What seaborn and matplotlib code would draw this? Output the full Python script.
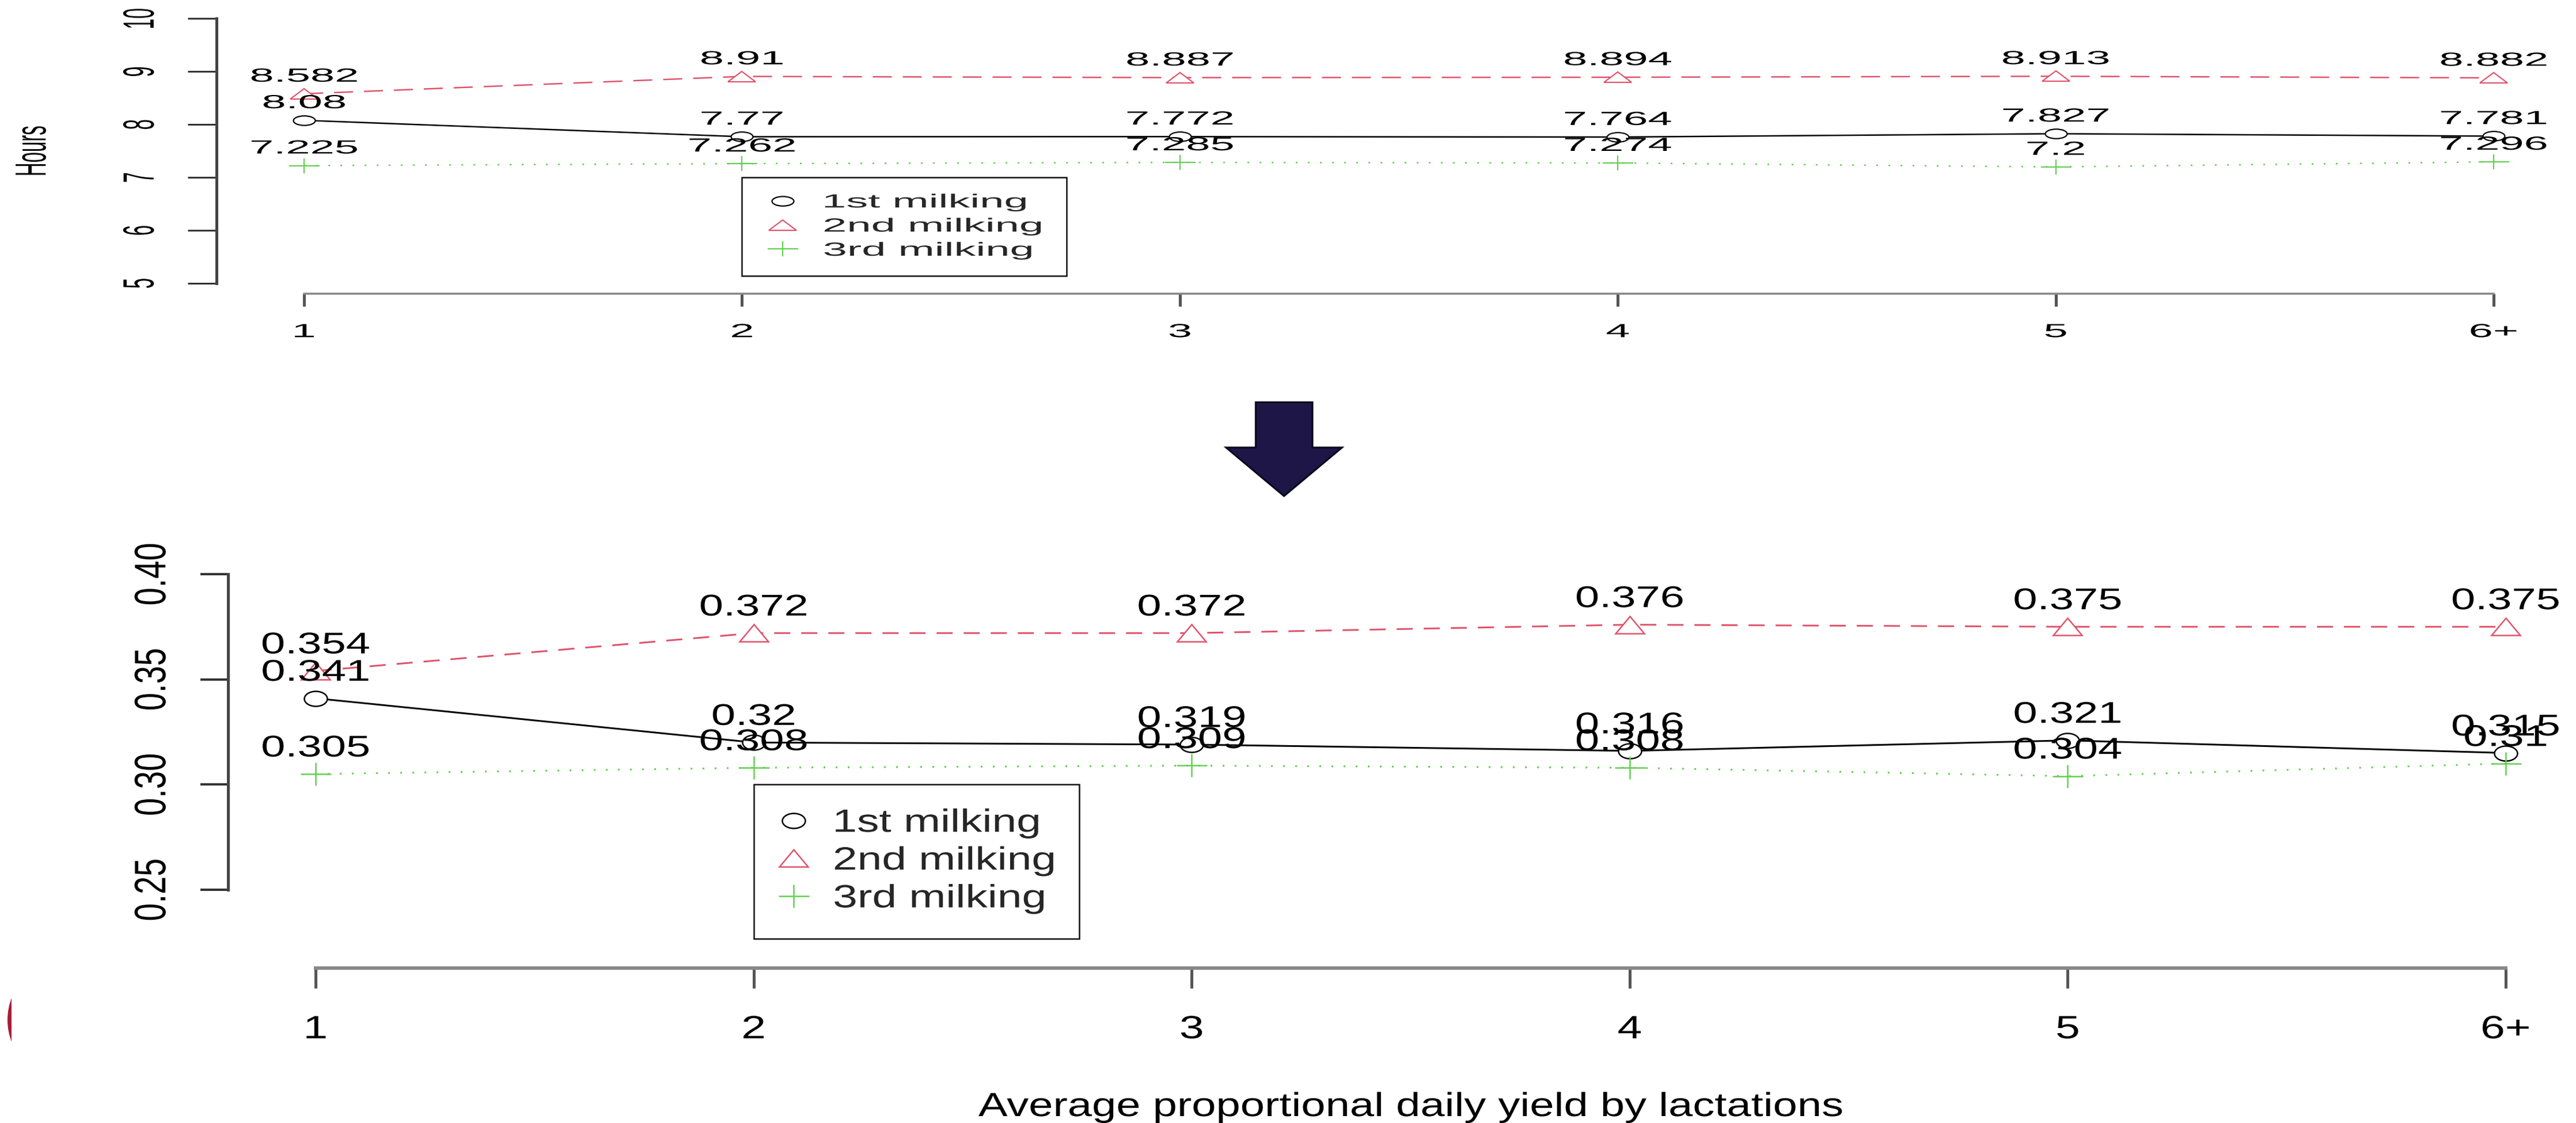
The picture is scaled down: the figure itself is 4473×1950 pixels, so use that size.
import numpy as np
import pandas as pd
import matplotlib
matplotlib.use("Agg")
import matplotlib.pyplot as plt
import seaborn as sns
from matplotlib.markers import MarkerStyle
from matplotlib.transforms import Affine2D
from matplotlib.patheffects import AbstractPathEffect
from matplotlib.lines import Line2D
from matplotlib.patches import Polygon, Ellipse, Rectangle
from matplotlib.path import Path

# ---------------- data ----------------
lactations = ["1", "2", "3", "4", "5", "6+"]
series_names = ["1st milking", "2nd milking", "3rd milking"]

hours_1st = [8.08, 7.77, 7.772, 7.764, 7.827, 7.781]
hours_2nd = [8.582, 8.91, 8.887, 8.894, 8.913, 8.882]
hours_3rd = [7.225, 7.262, 7.285, 7.274, 7.2, 7.296]

prop_1st = [0.341, 0.32, 0.319, 0.316, 0.321, 0.315]
prop_2nd = [0.354, 0.372, 0.372, 0.376, 0.375, 0.375]
prop_3rd = [0.305, 0.308, 0.309, 0.308, 0.304, 0.31]

hours_ticks = [5, 6, 7, 8, 9, 10]
hours_tick_labels = ["5", "6", "7", "8", "9", "10"]
prop_ticks = [0.25, 0.30, 0.35, 0.40]
prop_tick_labels = ["0.25", "0.30", "0.35", "0.40"]

top_ylabel = "Hours"
bottom_xlabel = "Average proportional daily yield by lactations"

series_colors = ["#000000", "#DF536B", "#61D04F"]

# ---------------- setup ----------------
W, H, DPI = 4473, 1950, 100
sns.set_theme(style="ticks")
plt.rcParams["font.family"] = ["Liberation Sans", "DejaVu Sans"]
plt.rcParams["lines.scale_dashes"] = False
plt.rcParams["axes.facecolor"] = "none"


def pt(px):
    return px * 72.0 / DPI


def rlim(lo, hi):
    d = 0.04 * (hi - lo)
    return lo - d, hi + d


class HStretch(AbstractPathEffect):
    """Draw text stretched horizontally (mimics the stretched raster)."""

    def __init__(self, sx, anchor="center"):
        super().__init__()
        self.sx = sx
        self.anchor = anchor

    def draw_path(self, renderer, gc, tpath, affine, rgbFace=None):
        verts = tpath.vertices
        codes = tpath.codes
        if codes is not None:
            keep = (codes != Path.CLOSEPOLY) & (codes != Path.STOP)
            verts = verts[keep]
        if len(verts) == 0:
            renderer.draw_path(gc, tpath, affine, rgbFace)
            return
        xs = affine.transform(verts)[:, 0]
        cx = 0.5 * (xs.min() + xs.max()) if self.anchor == "center" else xs.min()
        st = Affine2D().translate(-cx, 0).scale(self.sx, 1).translate(cx, 0)
        renderer.draw_path(gc, tpath, affine + st, rgbFace)


class ExtendRight:
    def __init__(self, extra):
        self.extra = extra

    def __call__(self, x0, y0, width, height, mutation_size):
        x1 = x0 + width + self.extra
        y1 = y0 + height
        return Path([(x0, y0), (x1, y0), (x1, y1), (x0, y1), (x0, y0)], closed=True)


BASE_PT = 10.0
BASE_PX = BASE_PT * DPI / 72.0


def make_marker(kind, w, h):
    return MarkerStyle(kind, transform=Affine2D().scale(w / BASE_PX, h / BASE_PX))


fig = plt.figure(figsize=(W / DPI, H / DPI), dpi=DPI)
fig.patch.set_facecolor("white")


def axes_px(left, top, right, bottom):
    return fig.add_axes([left / W, 1 - bottom / H, (right - left) / W, (bottom - top) / H])


TOP = dict(em=33, em_val=33, sx=2.3, sx_val=2.3, lw=2.5, mew=2.2,
           markers=[("o", 38, 16.5), ("^", 48, 17.5), ("+", 53, 26)],
           dash=(0, (pt(33), pt(19))), dot=(0, (pt(3), pt(18))),
           ytick_len=50, ytick_w=3, ytick_pad=67, xtick_len=22, xtick_w=5, xtick_pad=29,
           lspine_w=5, bspine_w=3.5, val_off=21,
           leg=dict(borderpad=0.85, labelspacing=0.33, handlelength=2.6, handletextpad=0.85),
           leg_right=10, leg_anchor=(2, 7))
BOT = dict(em=56, em_val=52, sx=1.37, sx_val=1.46, lw=3, mew=2.5,
           markers=[("o", 40, 26), ("^", 50, 30), ("+", 53, 40)],
           dash=(0, (pt(28), pt(19))), dot=(0, (pt(3), pt(18))),
           ytick_len=48, ytick_w=4, ytick_pad=56, xtick_len=35, xtick_w=5, xtick_pad=47,
           lspine_w=5, bspine_w=6, val_off=30.5,
           leg=dict(borderpad=0.75, labelspacing=0.243, handlelength=0.96, handletextpad=0.76),
           leg_right=-3, leg_anchor=(2, 0.30))

xpos = np.arange(1, len(lactations) + 1)


def draw_panel(ax, series, yrange, yticks, yticklabels, st):
    styles = ["-", st["dash"], st["dot"]]
    markers = [make_marker(k, w, h) for k, w, h in st["markers"]]
    for i, vals in enumerate(series):
        df = pd.DataFrame({"lactation": xpos, "value": vals})
        sns.lineplot(data=df, x="lactation", y="value", ax=ax, color=series_colors[i],
                     linestyle=styles[i], linewidth=pt(st["lw"]), marker=markers[i],
                     markersize=BASE_PT, markeredgecolor=series_colors[i],
                     markerfacecolor="white", markeredgewidth=pt(st["mew"]),
                     errorbar=None, legend=False, zorder=2 + 0.1 * i)
    for i, vals in enumerate(series):
        for x, v in zip(xpos, vals):
            ax.annotate(f"{v:g}", xy=(x, v), xytext=(0, pt(st["val_off"])),
                        textcoords="offset points", ha="center", va="baseline",
                        fontsize=pt(st["em_val"]), color="black",
                        path_effects=[HStretch(st["sx_val"])], zorder=5)

    ax.set_xlim(*rlim(1, len(lactations)))
    ax.set_ylim(*rlim(*yrange))
    ax.tick_params(axis="y", length=pt(st["ytick_len"]), width=pt(st["ytick_w"]),
                   pad=pt(st["ytick_pad"]), labelsize=pt(st["em"]), color="#333333",
                   labelcolor="black", direction="out", left=True)
    ax.tick_params(axis="x", length=pt(st["xtick_len"]), width=pt(st["xtick_w"]),
                   pad=pt(st["xtick_pad"]), labelsize=pt(st["em"]), color="#555555",
                   labelcolor="black", direction="out", bottom=True)
    ax.set_xticks(xpos, labels=lactations)
    ax.set_yticks(yticks, labels=yticklabels, rotation=90, va="center")
    for t in ax.get_xticklabels() + ax.get_yticklabels():
        t.set_path_effects([HStretch(st["sx"])])

    for s in ["top", "right"]:
        ax.spines[s].set_visible(False)
    ax.spines["left"].set_bounds(yticks[0], yticks[-1])
    ax.spines["left"].set_linewidth(pt(st["lspine_w"]))
    ax.spines["left"].set_color("#444444")
    ax.spines["bottom"].set_bounds(xpos[0], xpos[-1])
    ax.spines["bottom"].set_linewidth(pt(st["bspine_w"]))
    ax.spines["bottom"].set_color("#888888")
    ax.grid(False)

    handles = [Line2D([], [], linestyle="none", marker=markers[i], markersize=BASE_PT,
                      markeredgecolor=series_colors[i], markerfacecolor="white",
                      markeredgewidth=pt(st["mew"])) for i in range(len(series))]
    leg = ax.legend(handles, series_names, loc="upper left", bbox_to_anchor=st["leg_anchor"],
                    bbox_transform=ax.transData, borderaxespad=0, frameon=True, fancybox=False,
                    edgecolor="#111111", framealpha=1, facecolor="white",
                    fontsize=pt(st["em"]), numpoints=1, **st["leg"])
    leg.get_frame().set_linewidth(pt(2.5))
    for t in leg.get_texts():
        t.set_path_effects([HStretch(st["sx"], anchor="left")])
    return leg


ax_top = axes_px(376, 14.1, 4482, 510.4)
leg_top = draw_panel(ax_top, [hours_1st, hours_2nd, hours_3rd], (5, 10),
                     hours_ticks, hours_tick_labels, TOP)
ax_top.set_xlabel("")
ax_top.set_ylabel(top_ylabel, fontsize=pt(33), color="black")
ax_top.yaxis.set_label_coords(-0.0741, 0.5)
ax_top.yaxis.label.set_path_effects([HStretch(TOP["sx"])])

ax_bot = axes_px(396, 970.7, 4503, 1680.9)
leg_bot = draw_panel(ax_bot, [prop_1st, prop_2nd, prop_3rd], (0.22, 0.40),
                     prop_ticks, prop_tick_labels, BOT)
ax_bot.set_ylabel("")
ax_bot.set_xlabel(bottom_xlabel, fontsize=pt(58), color="black")
ax_bot.xaxis.set_label_coords(0.5, -0.3029)
ax_bot.xaxis.label.set_path_effects([HStretch(1.31)])

# arrow between the panels (decoration)
arrow_px = [(2180.5, 698.5), (2279, 698.5), (2279, 777), (2330.5, 777),
            (2229.6, 861.4), (2128.7, 777), (2180.5, 777)]
fig.add_artist(Polygon([(x / W, 1 - y / H) for x, y in arrow_px], closed=True,
                       transform=fig.transFigure, facecolor="#1d1647",
                       edgecolor="#08061c", linewidth=pt(3), zorder=1))

# cropped logo fragment at the left edge
logo = Ellipse((118 / W, 1 - 1771 / H), 210 / W, 210 / H, transform=fig.transFigure,
               facecolor="#a51d36", edgecolor="none")
fig.add_artist(logo)
logo.set_clip_path(Rectangle((0, 0), 20 / W, 1, transform=fig.transFigure))

# widen legend frames to hold the stretched labels
fig.canvas.draw()
for leg, st in [(leg_top, TOP), (leg_bot, BOT)]:
    tw = max(t.get_window_extent().width for t in leg.get_texts())
    leg.get_frame().set_boxstyle(ExtendRight((st["sx"] - 1) * tw + st["leg_right"]))

fig.savefig("out.png", dpi=DPI)
